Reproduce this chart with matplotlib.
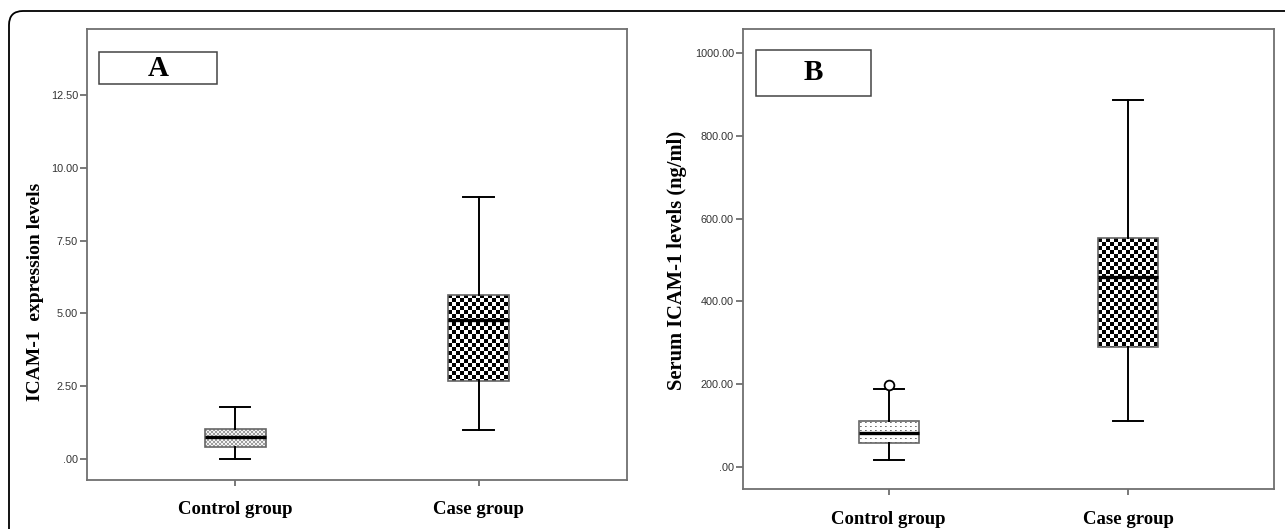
import numpy as np
import matplotlib
matplotlib.use("Agg")
from matplotlib import pyplot as plt
from matplotlib.patches import FancyBboxPatch, Rectangle
from matplotlib.transforms import IdentityTransform

# данные
groups = ["Control group", "Case group"]

# A: ICAM-1 expression levels
a_whislo = [0.01, 1.0]
a_q1 = [0.42, 2.69]
a_med = [0.74, 4.78]
a_q3 = [1.03, 5.65]
a_whishi = [1.78, 9.0]
a_fliers = [[], []]
a_ticks = [0, 2.5, 5, 7.5, 10, 12.5]
a_ticklabels = [".00", "2.50", "5.00", "7.50", "10.00", "12.50"]

# B: Serum ICAM-1 levels (ng/ml)
b_whislo = [18, 112]
b_q1 = [58, 291]
b_med = [82, 460]
b_q3 = [111, 554]
b_whishi = [189, 886]
b_fliers = [[199], []]
b_ticks = [0, 200, 400, 600, 800, 1000]
b_ticklabels = [".00", "200.00", "400.00", "600.00", "800.00", "1000.00"]

W, H = 1285, 529
fig = plt.figure(figsize=(W / 100, H / 100), dpi=100)

# рамка со скруглённым углом
frame = FancyBboxPatch((9, -30), 1320, 548, boxstyle="round,pad=0,rounding_size=14",
                       transform=IdentityTransform(), facecolor="none",
                       edgecolor="black", linewidth=1.3)
fig.add_artist(frame)


def pattern(kind, hp, wp):
    i, j = np.indices((hp, wp))
    if kind == "checker":
        return ((i // 4 + j // 4) % 2).astype(float)
    if kind == "fine":
        return np.where((i // 2 + j // 2) % 2 == 0, 0.62, 0.95)
    # редкие точки
    arr = np.ones((hp, wp))
    arr[(i % 4 == 1) & (j % 5 == 1)] = 0.45
    arr[(i % 4 == 1) & (j % 5 == 2)] = 0.6
    return arr


def panel(rect, whislo, q1, med, q3, whishi, fliers, ticks, ticklabels, ylim,
          ylabel, ylabel_size, ylabel_pos, letter, letter_box, kinds, xpad):
    ax = fig.add_axes(rect)
    stats = []
    for k in range(len(groups)):
        stats.append(dict(whislo=whislo[k], q1=q1[k], med=med[k], q3=q3[k],
                          whishi=whishi[k], fliers=fliers[k]))
    bp = ax.bxp(stats, positions=[1, 2], widths=0.25, capwidths=0.125,
                patch_artist=True,
                boxprops=dict(facecolor="none", edgecolor="#666666", linewidth=1.2),
                whiskerprops=dict(color="black", linewidth=1.4),
                capprops=dict(color="black", linewidth=1.4),
                medianprops=dict(color="black", linewidth=2.4),
                flierprops=dict(marker="o", markersize=7, markerfacecolor="white",
                                markeredgecolor="black", markeredgewidth=1.3))
    ax.set_xlim(0.392, 2.609)
    ax.set_ylim(*ylim)
    ax.set_autoscale_on(False)

    # заливка коробок узором
    for box, kind in zip(bp["boxes"], kinds):
        v = box.get_path().vertices
        x0, x1 = v[:, 0].min(), v[:, 0].max()
        y0, y1 = v[:, 1].min(), v[:, 1].max()
        p0 = ax.transData.transform((x0, y0))
        p1 = ax.transData.transform((x1, y1))
        wp = max(int(round(p1[0] - p0[0])), 1)
        hp = max(int(round(p1[1] - p0[1])), 1)
        im = ax.imshow(pattern(kind, hp, wp), cmap="gray", vmin=0, vmax=1,
                       extent=(x0, x1, y0, y1), interpolation="nearest",
                       aspect="auto", zorder=1.5)
        im.set_clip_path(box)
        box.set_zorder(2)

    ax.set_xlim(0.392, 2.609)
    ax.set_ylim(*ylim)

    ax.set_yticks(ticks)
    ax.set_yticklabels(ticklabels, fontfamily="Liberation Sans", fontsize=7.8,
                       color="#333333")
    ax.set_xticks([1, 2])
    ax.set_xticklabels(groups, fontfamily="Liberation Serif", fontweight="bold",
                       fontsize=13.5)
    ax.tick_params(axis="y", direction="out", length=5, width=1.1, color="#555555", pad=1.5)
    ax.tick_params(axis="x", direction="out", length=4, width=1.1, color="#555555", pad=xpad)
    for s in ax.spines.values():
        s.set_color("#707070")
        s.set_linewidth(1.3)

    ax.set_ylabel(ylabel, fontfamily="Liberation Serif", fontweight="bold",
                  fontsize=ylabel_size)
    ax.yaxis.set_label_coords(*ylabel_pos)

    bx, by, bw, bh = letter_box
    ax.add_patch(Rectangle((bx, by), bw, bh, transform=ax.transAxes, facecolor="white",
                           edgecolor="#444444", linewidth=1.1, zorder=3))
    ax.text(bx + bw / 2, by + bh / 2, letter, transform=ax.transAxes, ha="center",
            va="center", fontfamily="Liberation Serif", fontweight="bold",
            fontsize=21, zorder=4)
    return ax


panel([87 / W, (H - 480) / H, 540 / W, 451 / H],
      a_whislo, a_q1, a_med, a_q3, a_whishi, a_fliers, a_ticks, a_ticklabels,
      (-0.72, 14.77), "ICAM-1  expression levels", 14, (-0.079, 0.418), "A",
      (0.022, 0.878, 0.2185, 0.071), ["fine", "checker"], 11)

panel([743 / W, (H - 489) / H, 531 / W, 460 / H],
      b_whislo, b_q1, b_med, b_q3, b_whishi, b_fliers, b_ticks, b_ticklabels,
      (-53, 1058), "Serum ICAM-1 levels (ng/ml)", 14.8, (-0.106, 0.496), "B",
      (0.0245, 0.854, 0.2166, 0.101), ["dots", "checker"], 12)

fig.savefig("out.png", dpi=100)
